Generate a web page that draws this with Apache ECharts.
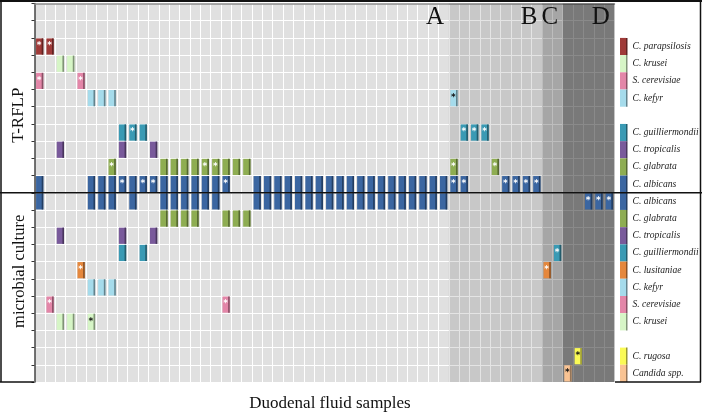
<!DOCTYPE html>
<html><head><meta charset="utf-8">
<script src="https://cdn.jsdelivr.net/npm/echarts@6/dist/echarts.min.js"></script>
<style>html,body{margin:0;padding:0;background:#fff}#c{width:702px;height:415px}</style>
</head><body><div id="c"></div>
<script>
// ---------------- data ----------------
const sampleCount = 56;
const rowLabels = ['', '', 'C. parapsilosis', 'C. krusei', 'S. cerevisiae', 'C. kefyr', '',
  'C. guilliermondii', 'C. tropicalis', 'C. glabrata', 'C. albicans',
  'C. albicans', 'C. glabrata', 'C. tropicalis', 'C. guilliermondii', 'C. lusitaniae',
  'C. kefyr', 'S. cerevisiae', 'C. krusei', '', 'C. rugosa', 'Candida spp.'];
const sectionLabels = ['T-RFLP', 'microbial culture'];
const groupLabels = ['A', 'B', 'C', 'D'];
const groupStart = [0, 40, 49, 51];
const groupEnd = [40, 49, 51, 56];
const xTitle = 'Duodenal fluid samples';

// T-RFLP positive samples (0-based sample index) and those marked with *
const tParapsilosis = [0, 1];            const tParapsilosisStar = [0, 1];
const tKrusei = [2, 3];                  const tKruseiStar = [];
const tCerevisiae = [0, 4];              const tCerevisiaeStar = [0, 4];
const tKefyr = [5, 6, 7, 40];            const tKefyrStar = [40];
const tGuilliermondii = [8, 9, 10, 41, 42, 43]; const tGuilliermondiiStar = [9, 41, 42, 43];
const tTropicalis = [2, 8, 11];          const tTropicalisStar = [];
const tGlabrata = [7, 12, 13, 14, 15, 16, 17, 18, 19, 20, 40, 44];
const tGlabrataStar = [7, 16, 17, 40, 44];
const tAlbicans = [0, 5, 6, 7, 8, 9, 10, 11, 12, 13, 14, 15, 16, 17, 18,
  21, 22, 23, 24, 25, 26, 27, 28, 29, 30, 31, 32, 33, 34, 35, 36, 37, 38, 39,
  40, 41, 45, 46, 47, 48];
const tAlbicansStar = [8, 10, 11, 18, 40, 41, 45, 46, 47, 48];

// microbial culture positive samples
const cAlbicans = [0, 5, 6, 7, 9, 12, 13, 14, 15, 16, 17,
  21, 22, 23, 24, 25, 26, 27, 28, 29, 30, 31, 32, 33, 34, 35, 36, 37, 38, 39,
  53, 54, 55];
const cAlbicansStar = [53, 54, 55];
const cGlabrata = [12, 13, 14, 15, 18, 19, 20];  const cGlabrataStar = [];
const cTropicalis = [2, 8, 11];          const cTropicalisStar = [];
const cGuilliermondii = [8, 10, 50];     const cGuilliermondiiStar = [50];
const cLusitaniae = [4, 49];             const cLusitaniaeStar = [4, 49];
const cKefyr = [5, 6, 7];                const cKefyrStar = [];
const cCerevisiae = [1, 18];             const cCerevisiaeStar = [1, 18];
const cKrusei = [2, 3, 5];               const cKruseiStar = [5];
const cRugosa = [52];                    const cRugosaStar = [52];
const cCandidaSpp = [51];                const cCandidaSppStar = [51];

const rowPositives = [null, null, tParapsilosis, tKrusei, tCerevisiae, tKefyr, null,
  tGuilliermondii, tTropicalis, tGlabrata, tAlbicans,
  cAlbicans, cGlabrata, cTropicalis, cGuilliermondii, cLusitaniae, cKefyr, cCerevisiae, cKrusei,
  null, cRugosa, cCandidaSpp];
const rowStars = [null, null, tParapsilosisStar, tKruseiStar, tCerevisiaeStar, tKefyrStar, null,
  tGuilliermondiiStar, tTropicalisStar, tGlabrataStar, tAlbicansStar,
  cAlbicansStar, cGlabrataStar, cTropicalisStar, cGuilliermondiiStar, cLusitaniaeStar, cKefyrStar,
  cCerevisiaeStar, cKruseiStar, null, cRugosaStar, cCandidaSppStar];

// ---------------- styles ----------------
const SERIF = '"Liberation Serif", "Times New Roman", serif';
const speciesColor = {
  'C. parapsilosis': '#9f3a38', 'C. krusei': '#d6f5c6', 'S. cerevisiae': '#e386a8',
  'C. kefyr': '#a5dbeb', 'C. guilliermondii': '#3a9ab4', 'C. tropicalis': '#795a9b',
  'C. glabrata': '#8ead52', 'C. albicans': '#3b66a1', 'C. lusitaniae': '#e5873c',
  'C. rugosa': '#fafa55', 'Candida spp.': '#f9c393'
};
const darkStar = {'C. krusei': 1, 'C. kefyr': 1, 'C. rugosa': 1, 'Candida spp.': 1};
const groupShade = [0, 0.107, 0.26, 0.46];
function shade(hex, t) {
  const n = parseInt(hex.slice(1), 16);
  const r = (n >> 16) & 255, g = (n >> 8) & 255, b = n & 255;
  return 'rgb(' + Math.round(r * (1 - t)) + ',' + Math.round(g * (1 - t)) + ',' + Math.round(b * (1 - t)) + ')';
}

const cells = [];
rowPositives.forEach((cols, row) => {
  if (!cols) return;
  cols.forEach(c => cells.push([c, row, rowStars[row].indexOf(c) >= 0 ? 1 : 0]));
});
const groups = groupLabels.map((g, i) => [groupStart[i], groupEnd[i], i]);

const speciesNames = Object.keys(speciesColor);
const rich = { t: { fontFamily: SERIF, fontStyle: 'italic', fontSize: 9.6, color: '#222', padding: [0, 0, 0, 5] } };
speciesNames.forEach((n, i) => {
  rich['s' + i] = { backgroundColor: speciesColor[n], width: 6, height: 17.2 };
  rich['e' + i] = { backgroundColor: shade(speciesColor[n], 0.4), width: 1.5, height: 17.2 };
});

const chart = echarts.init(document.getElementById('c'));
chart.setOption({
  animation: false,
  grid: { left: 34.5, right: 87.5, top: 3.5, bottom: 33, show: true, backgroundColor: '#e0e0e0',
    borderWidth: 0, containLabel: false, outerBoundsMode: 'none' },
  xAxis: {
    type: 'value', min: 0, max: sampleCount, interval: 1,
    axisLabel: { show: false }, axisTick: { show: false },
    axisLine: { show: true, lineStyle: { color: '#8a8a8a', width: 1.5 } },
    splitLine: { show: true, lineStyle: { color: '#ffffff', width: 1 } }
  },
  yAxis: [{
    type: 'value', min: 0, max: rowLabels.length, interval: 1, inverse: true,
    axisLabel: { show: false },
    axisTick: { show: true, length: 3, lineStyle: { color: '#333' } },
    axisLine: { show: true, lineStyle: { color: '#444', width: 1.5 } },
    splitLine: { show: true, lineStyle: { color: '#ffffff', width: 1 } }
  }, {
    type: 'category', position: 'right', inverse: true, data: rowLabels,
    axisLine: { show: false }, axisTick: { show: false }, splitLine: { show: false },
    axisLabel: {
      margin: 5.5, interval: 0,
      formatter: v => { if (!v) return ''; const i = speciesNames.indexOf(v); return '{s' + i + '|}{e' + i + '|}{t|' + v + '}'; },
      rich: rich
    }
  }],
  series: [{
    type: 'custom', z: 1, data: groups, silent: true,
    renderItem: (params, api) => {
      const s = api.value(0), e = api.value(1), i = api.value(2);
      const p0 = api.coord([s, 0]), p1 = api.coord([e, rowLabels.length]);
      const tl = api.coord([e - 0.45, 1]);
      return { type: 'group', children: [
        { type: 'rect', shape: { x: p0[0], y: p0[1], width: p1[0] - p0[0], height: p1[1] - p0[1] },
          style: { fill: 'rgba(0,0,0,' + groupShade[i] + ')' } },
        { type: 'text', style: { text: groupLabels[i], x: tl[0], y: 17.5, fill: '#111',
          font: '25px ' + SERIF, align: 'right', verticalAlign: 'middle' } }
      ] };
    }
  }, {
    type: 'custom', z: 3, data: cells, silent: true,
    renderItem: (params, api) => {
      const c = api.value(0), r = api.value(1), star = api.value(2);
      const name = rowLabels[r];
      const col = speciesColor[name];
      const p0 = api.coord([c, r]), p1 = api.coord([c + 1, r + 1]);
      const w = p1[0] - p0[0], h = p1[1] - p0[1];
      const x = p0[0] + w * 0.15, bw = w * 0.7, y = p0[1] + 0.5, bh = h - 1;
      const ch = [
        { type: 'rect', shape: { x: x, y: y, width: bw, height: bh }, style: { fill: col } },
        { type: 'rect', shape: { x: x + bw - 1.6, y: y, width: 1.6, height: bh }, style: { fill: shade(col, 0.4) } }
      ];
      if (star) ch.push({ type: 'text', style: { text: '*', x: x + bw / 2 - 0.5, y: y + 7.5,
        fill: darkStar[name] ? '#111' : '#fff', font: 'bold 9px "DejaVu Sans", sans-serif',
        align: 'center', verticalAlign: 'middle' } });
      return { type: 'group', children: ch };
    }
  }]
});

const yDiv = chart.convertToPixel({ xAxisIndex: 0, yAxisIndex: 0 }, [0, 11])[1];
const yTop = chart.convertToPixel({ xAxisIndex: 0, yAxisIndex: 0 }, [0, 0])[1];
const yBot = chart.convertToPixel({ xAxisIndex: 0, yAxisIndex: 0 }, [0, rowLabels.length])[1];
const lineStyle = { stroke: '#111', lineWidth: 1.5 };
chart.setOption({
  graphic: [
    { type: 'line', shape: { x1: 0, y1: 1, x2: 702, y2: 1 }, style: { stroke: '#111', lineWidth: 2 }, z: 10 },
    { type: 'line', shape: { x1: 1, y1: 0, x2: 1, y2: yBot }, style: lineStyle, z: 10 },
    { type: 'line', shape: { x1: 700.5, y1: 0, x2: 700.5, y2: yBot }, style: lineStyle, z: 10 },
    { type: 'line', shape: { x1: 0, y1: yBot, x2: 34, y2: yBot }, style: lineStyle, z: 10 },
    { type: 'line', shape: { x1: 615, y1: yBot, x2: 701, y2: yBot }, style: lineStyle, z: 10 },
    { type: 'line', shape: { x1: 0, y1: yDiv, x2: 702, y2: yDiv }, style: lineStyle, z: 10 },
    { type: 'text', x: 19, y: (yTop + yDiv) / 2 + 17, rotation: Math.PI / 2,
      style: { text: sectionLabels[0], font: '17px ' + SERIF, fill: '#111', align: 'center', verticalAlign: 'middle' } },
    { type: 'text', x: 20, y: (yDiv + yBot) / 2 - 16, rotation: Math.PI / 2,
      style: { text: sectionLabels[1], font: '16.5px ' + SERIF, fill: '#111', align: 'center', verticalAlign: 'middle' } },
    { type: 'text', x: 330, y: 404, style: { text: xTitle, font: '17px ' + SERIF, fill: '#111', align: 'center', verticalAlign: 'middle' } }
  ]
});
</script></body></html>
